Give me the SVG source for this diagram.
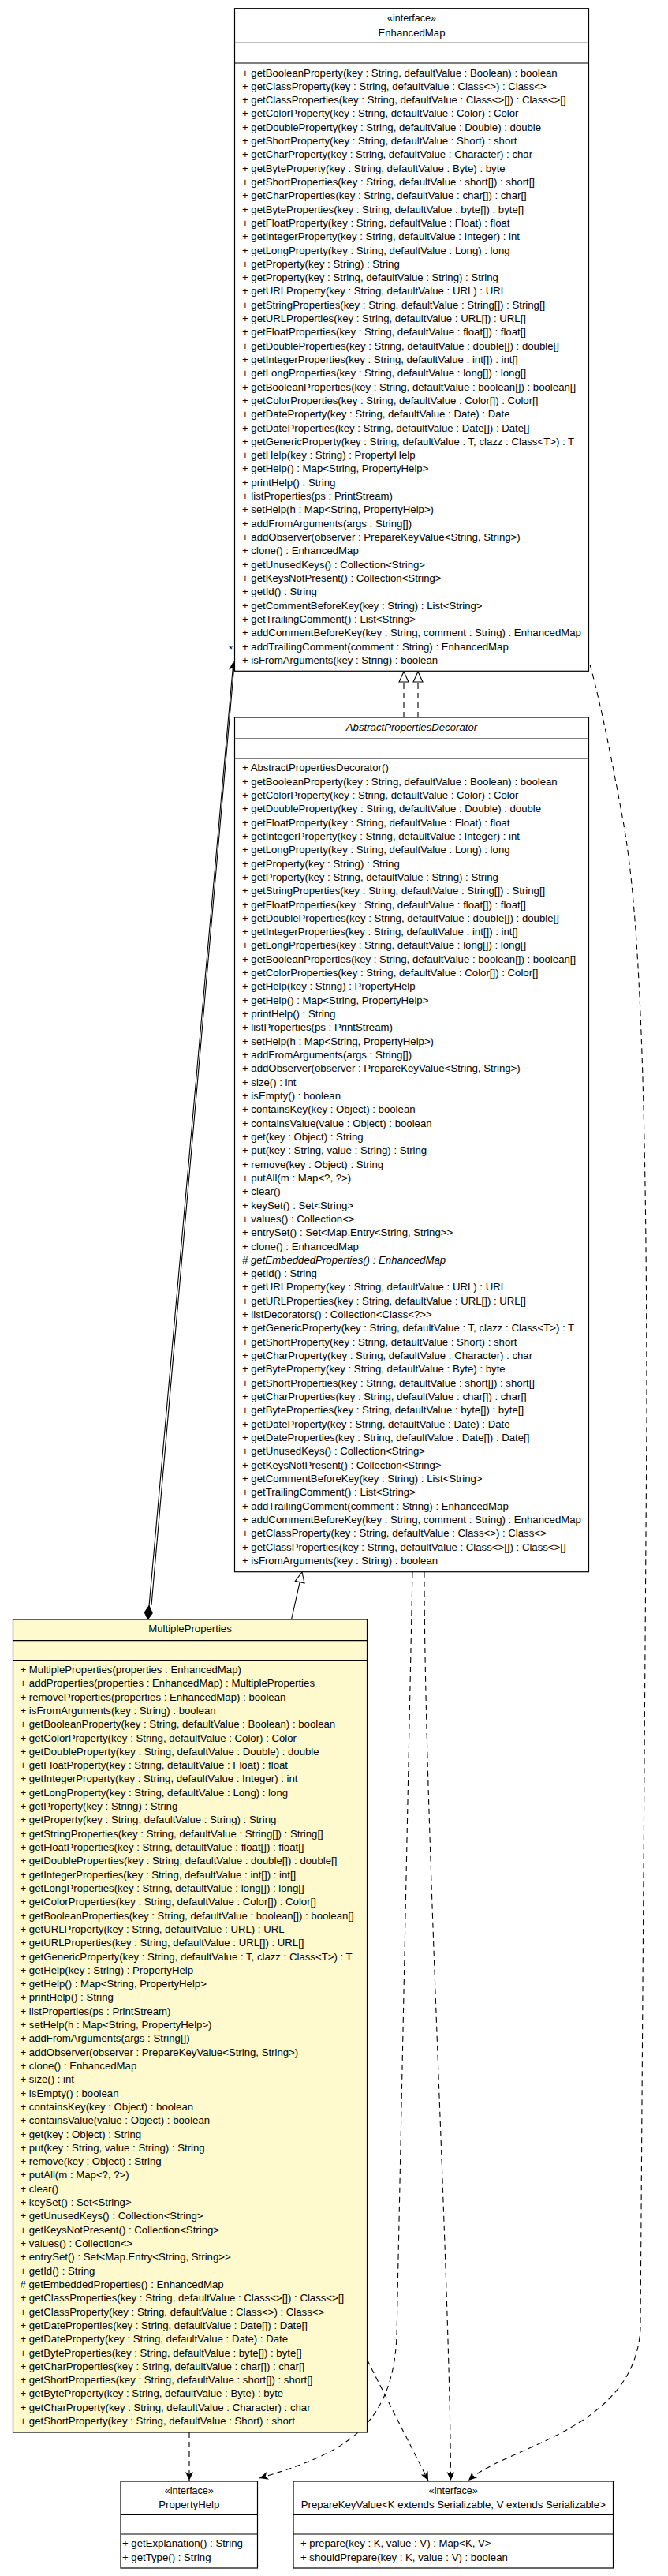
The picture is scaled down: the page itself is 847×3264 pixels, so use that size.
<svg xmlns="http://www.w3.org/2000/svg" width="847" height="3264" viewBox="0 0 847 3264">
<style>
.box{fill:#fff;stroke:#000;stroke-width:1.2}
.mp{fill:#FFFACD}
.sep{stroke:#000;stroke-width:1.2}
.t{font-family:"Liberation Sans",Arial,Helvetica,sans-serif;font-size:13.2px;fill:#000}
.st{font-size:12.5px}
.c{text-anchor:middle}
.i{font-style:italic}
.dep{fill:none;stroke:#000;stroke-width:1.1;stroke-dasharray:7,5}
.sol{fill:none;stroke:#000;stroke-width:1.1}
</style>
<defs>
<marker id="vee" markerUnits="userSpaceOnUse" markerWidth="12" markerHeight="10" refX="11" refY="5" orient="auto" viewBox="0 0 12 10"><path d="M0,0 L11,5 L0,10 L3,5 z" fill="#000"/></marker>
<marker id="tri" markerUnits="userSpaceOnUse" markerWidth="15" markerHeight="14" refX="14" refY="7" orient="auto" viewBox="0 0 15 14"><path d="M1,1 L14,7 L1,13 z" fill="#fff" stroke="#000" stroke-width="1.1"/></marker>
<marker id="dia" markerUnits="userSpaceOnUse" markerWidth="19" markerHeight="12" refX="0.5" refY="6" orient="auto" viewBox="0 0 19 12"><path d="M0.5,6 L9,1 L18,6 L9,11 z" fill="#000" stroke="#000"/></marker>
</defs>

<g id="connectors">
<path class="dep" d="M512,909 L512,851" marker-end="url(#tri)"/>
<path class="dep" d="M530,909 L530,851" marker-end="url(#tri)"/>
<path class="sol" d="M369.5,2052 L383,1992" marker-end="url(#tri)"/>
<path class="sol" d="M187.5,2052 L296,838" marker-start="url(#dia)" marker-end="url(#vee)"/>
<path class="sol" d="M192,2034 L297,842"/>
<path class="dep" d="M240,3082 L240,3143" marker-end="url(#vee)"/>
<path class="dep" d="M523,1992 L503,2960 C498,3080 430,3110 329,3140" marker-end="url(#vee)"/>
<path class="dep" d="M465.5,2990 L543,3143" marker-end="url(#vee)"/>
<path class="dep" d="M538,1992 C538,2300 571,2900 571.5,3143" marker-end="url(#vee)"/>
<path class="dep" d="M748,842 C756,870 770,930 790,1040 C812,1160 820,1400 820,1800 L812,2950 C806,3080 640,3100 594,3143" marker-end="url(#vee)"/>
<text class="t" x="290" y="827">*</text>
</g>

<g id="EnhancedMap">
<rect class="box" x="297.5" y="10.7" width="449" height="839.6"/>
<line class="sep" x1="297.5" y1="54.3" x2="746.5" y2="54.3"/>
<line class="sep" x1="297.5" y1="80" x2="746.5" y2="80"/>
<text class="t st c" x="522" y="27.2">«interface»</text>
<text class="t c" x="522" y="45.5">EnhancedMap</text>
<text class="t" x="307" y="96.5">
<tspan x="307" dy="0">+ getBooleanProperty(key : String, defaultValue : Boolean) : boolean</tspan>
<tspan x="307" dy="17.31">+ getClassProperty(key : String, defaultValue : Class&lt;&gt;) : Class&lt;&gt;</tspan>
<tspan x="307" dy="17.31">+ getClassProperties(key : String, defaultValue : Class&lt;&gt;[]) : Class&lt;&gt;[]</tspan>
<tspan x="307" dy="17.31">+ getColorProperty(key : String, defaultValue : Color) : Color</tspan>
<tspan x="307" dy="17.31">+ getDoubleProperty(key : String, defaultValue : Double) : double</tspan>
<tspan x="307" dy="17.31">+ getShortProperty(key : String, defaultValue : Short) : short</tspan>
<tspan x="307" dy="17.31">+ getCharProperty(key : String, defaultValue : Character) : char</tspan>
<tspan x="307" dy="17.31">+ getByteProperty(key : String, defaultValue : Byte) : byte</tspan>
<tspan x="307" dy="17.31">+ getShortProperties(key : String, defaultValue : short[]) : short[]</tspan>
<tspan x="307" dy="17.31">+ getCharProperties(key : String, defaultValue : char[]) : char[]</tspan>
<tspan x="307" dy="17.31">+ getByteProperties(key : String, defaultValue : byte[]) : byte[]</tspan>
<tspan x="307" dy="17.31">+ getFloatProperty(key : String, defaultValue : Float) : float</tspan>
<tspan x="307" dy="17.31">+ getIntegerProperty(key : String, defaultValue : Integer) : int</tspan>
<tspan x="307" dy="17.31">+ getLongProperty(key : String, defaultValue : Long) : long</tspan>
<tspan x="307" dy="17.31">+ getProperty(key : String) : String</tspan>
<tspan x="307" dy="17.31">+ getProperty(key : String, defaultValue : String) : String</tspan>
<tspan x="307" dy="17.31">+ getURLProperty(key : String, defaultValue : URL) : URL</tspan>
<tspan x="307" dy="17.31">+ getStringProperties(key : String, defaultValue : String[]) : String[]</tspan>
<tspan x="307" dy="17.31">+ getURLProperties(key : String, defaultValue : URL[]) : URL[]</tspan>
<tspan x="307" dy="17.31">+ getFloatProperties(key : String, defaultValue : float[]) : float[]</tspan>
<tspan x="307" dy="17.31">+ getDoubleProperties(key : String, defaultValue : double[]) : double[]</tspan>
<tspan x="307" dy="17.31">+ getIntegerProperties(key : String, defaultValue : int[]) : int[]</tspan>
<tspan x="307" dy="17.31">+ getLongProperties(key : String, defaultValue : long[]) : long[]</tspan>
<tspan x="307" dy="17.31">+ getBooleanProperties(key : String, defaultValue : boolean[]) : boolean[]</tspan>
<tspan x="307" dy="17.31">+ getColorProperties(key : String, defaultValue : Color[]) : Color[]</tspan>
<tspan x="307" dy="17.31">+ getDateProperty(key : String, defaultValue : Date) : Date</tspan>
<tspan x="307" dy="17.31">+ getDateProperties(key : String, defaultValue : Date[]) : Date[]</tspan>
<tspan x="307" dy="17.31">+ getGenericProperty(key : String, defaultValue : T, clazz : Class&lt;T&gt;) : T</tspan>
<tspan x="307" dy="17.31">+ getHelp(key : String) : PropertyHelp</tspan>
<tspan x="307" dy="17.31">+ getHelp() : Map&lt;String, PropertyHelp&gt;</tspan>
<tspan x="307" dy="17.31">+ printHelp() : String</tspan>
<tspan x="307" dy="17.31">+ listProperties(ps : PrintStream)</tspan>
<tspan x="307" dy="17.31">+ setHelp(h : Map&lt;String, PropertyHelp&gt;)</tspan>
<tspan x="307" dy="17.31">+ addFromArguments(args : String[])</tspan>
<tspan x="307" dy="17.31">+ addObserver(observer : PrepareKeyValue&lt;String, String&gt;)</tspan>
<tspan x="307" dy="17.31">+ clone() : EnhancedMap</tspan>
<tspan x="307" dy="17.31">+ getUnusedKeys() : Collection&lt;String&gt;</tspan>
<tspan x="307" dy="17.31">+ getKeysNotPresent() : Collection&lt;String&gt;</tspan>
<tspan x="307" dy="17.31">+ getId() : String</tspan>
<tspan x="307" dy="17.31">+ getCommentBeforeKey(key : String) : List&lt;String&gt;</tspan>
<tspan x="307" dy="17.31">+ getTrailingComment() : List&lt;String&gt;</tspan>
<tspan x="307" dy="17.31">+ addCommentBeforeKey(key : String, comment : String) : EnhancedMap</tspan>
<tspan x="307" dy="17.31">+ addTrailingComment(comment : String) : EnhancedMap</tspan>
<tspan x="307" dy="17.31">+ isFromArguments(key : String) : boolean</tspan>
</text>
</g>

<g id="AbstractPropertiesDecorator">
<rect class="box" x="297.5" y="909" width="449" height="1082.7"/>
<line class="sep" x1="297.5" y1="936" x2="746.5" y2="936"/>
<line class="sep" x1="297.5" y1="961" x2="746.5" y2="961"/>
<text class="t c i" x="522" y="925.5">AbstractPropertiesDecorator</text>
<text class="t" x="307" y="977.3">
<tspan x="307" dy="0">+ AbstractPropertiesDecorator()</tspan>
<tspan x="307" dy="17.32">+ getBooleanProperty(key : String, defaultValue : Boolean) : boolean</tspan>
<tspan x="307" dy="17.32">+ getColorProperty(key : String, defaultValue : Color) : Color</tspan>
<tspan x="307" dy="17.32">+ getDoubleProperty(key : String, defaultValue : Double) : double</tspan>
<tspan x="307" dy="17.32">+ getFloatProperty(key : String, defaultValue : Float) : float</tspan>
<tspan x="307" dy="17.32">+ getIntegerProperty(key : String, defaultValue : Integer) : int</tspan>
<tspan x="307" dy="17.32">+ getLongProperty(key : String, defaultValue : Long) : long</tspan>
<tspan x="307" dy="17.32">+ getProperty(key : String) : String</tspan>
<tspan x="307" dy="17.32">+ getProperty(key : String, defaultValue : String) : String</tspan>
<tspan x="307" dy="17.32">+ getStringProperties(key : String, defaultValue : String[]) : String[]</tspan>
<tspan x="307" dy="17.32">+ getFloatProperties(key : String, defaultValue : float[]) : float[]</tspan>
<tspan x="307" dy="17.32">+ getDoubleProperties(key : String, defaultValue : double[]) : double[]</tspan>
<tspan x="307" dy="17.32">+ getIntegerProperties(key : String, defaultValue : int[]) : int[]</tspan>
<tspan x="307" dy="17.32">+ getLongProperties(key : String, defaultValue : long[]) : long[]</tspan>
<tspan x="307" dy="17.32">+ getBooleanProperties(key : String, defaultValue : boolean[]) : boolean[]</tspan>
<tspan x="307" dy="17.32">+ getColorProperties(key : String, defaultValue : Color[]) : Color[]</tspan>
<tspan x="307" dy="17.32">+ getHelp(key : String) : PropertyHelp</tspan>
<tspan x="307" dy="17.32">+ getHelp() : Map&lt;String, PropertyHelp&gt;</tspan>
<tspan x="307" dy="17.32">+ printHelp() : String</tspan>
<tspan x="307" dy="17.32">+ listProperties(ps : PrintStream)</tspan>
<tspan x="307" dy="17.32">+ setHelp(h : Map&lt;String, PropertyHelp&gt;)</tspan>
<tspan x="307" dy="17.32">+ addFromArguments(args : String[])</tspan>
<tspan x="307" dy="17.32">+ addObserver(observer : PrepareKeyValue&lt;String, String&gt;)</tspan>
<tspan x="307" dy="17.32">+ size() : int</tspan>
<tspan x="307" dy="17.32">+ isEmpty() : boolean</tspan>
<tspan x="307" dy="17.32">+ containsKey(key : Object) : boolean</tspan>
<tspan x="307" dy="17.32">+ containsValue(value : Object) : boolean</tspan>
<tspan x="307" dy="17.32">+ get(key : Object) : String</tspan>
<tspan x="307" dy="17.32">+ put(key : String, value : String) : String</tspan>
<tspan x="307" dy="17.32">+ remove(key : Object) : String</tspan>
<tspan x="307" dy="17.32">+ putAll(m : Map&lt;?, ?&gt;)</tspan>
<tspan x="307" dy="17.32">+ clear()</tspan>
<tspan x="307" dy="17.32">+ keySet() : Set&lt;String&gt;</tspan>
<tspan x="307" dy="17.32">+ values() : Collection&lt;&gt;</tspan>
<tspan x="307" dy="17.32">+ entrySet() : Set&lt;Map.Entry&lt;String, String&gt;&gt;</tspan>
<tspan x="307" dy="17.32">+ clone() : EnhancedMap</tspan>
<tspan x="307" dy="17.32" class="i"># getEmbeddedProperties() : EnhancedMap</tspan>
<tspan x="307" dy="17.32">+ getId() : String</tspan>
<tspan x="307" dy="17.32">+ getURLProperty(key : String, defaultValue : URL) : URL</tspan>
<tspan x="307" dy="17.32">+ getURLProperties(key : String, defaultValue : URL[]) : URL[]</tspan>
<tspan x="307" dy="17.32">+ listDecorators() : Collection&lt;Class&lt;?&gt;&gt;</tspan>
<tspan x="307" dy="17.32">+ getGenericProperty(key : String, defaultValue : T, clazz : Class&lt;T&gt;) : T</tspan>
<tspan x="307" dy="17.32">+ getShortProperty(key : String, defaultValue : Short) : short</tspan>
<tspan x="307" dy="17.32">+ getCharProperty(key : String, defaultValue : Character) : char</tspan>
<tspan x="307" dy="17.32">+ getByteProperty(key : String, defaultValue : Byte) : byte</tspan>
<tspan x="307" dy="17.32">+ getShortProperties(key : String, defaultValue : short[]) : short[]</tspan>
<tspan x="307" dy="17.32">+ getCharProperties(key : String, defaultValue : char[]) : char[]</tspan>
<tspan x="307" dy="17.32">+ getByteProperties(key : String, defaultValue : byte[]) : byte[]</tspan>
<tspan x="307" dy="17.32">+ getDateProperty(key : String, defaultValue : Date) : Date</tspan>
<tspan x="307" dy="17.32">+ getDateProperties(key : String, defaultValue : Date[]) : Date[]</tspan>
<tspan x="307" dy="17.32">+ getUnusedKeys() : Collection&lt;String&gt;</tspan>
<tspan x="307" dy="17.32">+ getKeysNotPresent() : Collection&lt;String&gt;</tspan>
<tspan x="307" dy="17.32">+ getCommentBeforeKey(key : String) : List&lt;String&gt;</tspan>
<tspan x="307" dy="17.32">+ getTrailingComment() : List&lt;String&gt;</tspan>
<tspan x="307" dy="17.32">+ addTrailingComment(comment : String) : EnhancedMap</tspan>
<tspan x="307" dy="17.32">+ addCommentBeforeKey(key : String, comment : String) : EnhancedMap</tspan>
<tspan x="307" dy="17.32">+ getClassProperty(key : String, defaultValue : Class&lt;&gt;) : Class&lt;&gt;</tspan>
<tspan x="307" dy="17.32">+ getClassProperties(key : String, defaultValue : Class&lt;&gt;[]) : Class&lt;&gt;[]</tspan>
<tspan x="307" dy="17.32">+ isFromArguments(key : String) : boolean</tspan>
</text>
</g>

<g id="MultipleProperties">
<rect class="box mp" x="16.5" y="2052" width="449" height="1030"/>
<line class="sep" x1="16.5" y1="2078.7" x2="465.5" y2="2078.7"/>
<line class="sep" x1="16.5" y1="2103.7" x2="465.5" y2="2103.7"/>
<text class="t c" x="241" y="2068.3">MultipleProperties</text>
<text class="t" x="25.5" y="2120">
<tspan x="25.5" dy="0">+ MultipleProperties(properties : EnhancedMap)</tspan>
<tspan x="25.5" dy="17.31">+ addProperties(properties : EnhancedMap) : MultipleProperties</tspan>
<tspan x="25.5" dy="17.31">+ removeProperties(properties : EnhancedMap) : boolean</tspan>
<tspan x="25.5" dy="17.31">+ isFromArguments(key : String) : boolean</tspan>
<tspan x="25.5" dy="17.31">+ getBooleanProperty(key : String, defaultValue : Boolean) : boolean</tspan>
<tspan x="25.5" dy="17.31">+ getColorProperty(key : String, defaultValue : Color) : Color</tspan>
<tspan x="25.5" dy="17.31">+ getDoubleProperty(key : String, defaultValue : Double) : double</tspan>
<tspan x="25.5" dy="17.31">+ getFloatProperty(key : String, defaultValue : Float) : float</tspan>
<tspan x="25.5" dy="17.31">+ getIntegerProperty(key : String, defaultValue : Integer) : int</tspan>
<tspan x="25.5" dy="17.31">+ getLongProperty(key : String, defaultValue : Long) : long</tspan>
<tspan x="25.5" dy="17.31">+ getProperty(key : String) : String</tspan>
<tspan x="25.5" dy="17.31">+ getProperty(key : String, defaultValue : String) : String</tspan>
<tspan x="25.5" dy="17.31">+ getStringProperties(key : String, defaultValue : String[]) : String[]</tspan>
<tspan x="25.5" dy="17.31">+ getFloatProperties(key : String, defaultValue : float[]) : float[]</tspan>
<tspan x="25.5" dy="17.31">+ getDoubleProperties(key : String, defaultValue : double[]) : double[]</tspan>
<tspan x="25.5" dy="17.31">+ getIntegerProperties(key : String, defaultValue : int[]) : int[]</tspan>
<tspan x="25.5" dy="17.31">+ getLongProperties(key : String, defaultValue : long[]) : long[]</tspan>
<tspan x="25.5" dy="17.31">+ getColorProperties(key : String, defaultValue : Color[]) : Color[]</tspan>
<tspan x="25.5" dy="17.31">+ getBooleanProperties(key : String, defaultValue : boolean[]) : boolean[]</tspan>
<tspan x="25.5" dy="17.31">+ getURLProperty(key : String, defaultValue : URL) : URL</tspan>
<tspan x="25.5" dy="17.31">+ getURLProperties(key : String, defaultValue : URL[]) : URL[]</tspan>
<tspan x="25.5" dy="17.31">+ getGenericProperty(key : String, defaultValue : T, clazz : Class&lt;T&gt;) : T</tspan>
<tspan x="25.5" dy="17.31">+ getHelp(key : String) : PropertyHelp</tspan>
<tspan x="25.5" dy="17.31">+ getHelp() : Map&lt;String, PropertyHelp&gt;</tspan>
<tspan x="25.5" dy="17.31">+ printHelp() : String</tspan>
<tspan x="25.5" dy="17.31">+ listProperties(ps : PrintStream)</tspan>
<tspan x="25.5" dy="17.31">+ setHelp(h : Map&lt;String, PropertyHelp&gt;)</tspan>
<tspan x="25.5" dy="17.31">+ addFromArguments(args : String[])</tspan>
<tspan x="25.5" dy="17.31">+ addObserver(observer : PrepareKeyValue&lt;String, String&gt;)</tspan>
<tspan x="25.5" dy="17.31">+ clone() : EnhancedMap</tspan>
<tspan x="25.5" dy="17.31">+ size() : int</tspan>
<tspan x="25.5" dy="17.31">+ isEmpty() : boolean</tspan>
<tspan x="25.5" dy="17.31">+ containsKey(key : Object) : boolean</tspan>
<tspan x="25.5" dy="17.31">+ containsValue(value : Object) : boolean</tspan>
<tspan x="25.5" dy="17.31">+ get(key : Object) : String</tspan>
<tspan x="25.5" dy="17.31">+ put(key : String, value : String) : String</tspan>
<tspan x="25.5" dy="17.31">+ remove(key : Object) : String</tspan>
<tspan x="25.5" dy="17.31">+ putAll(m : Map&lt;?, ?&gt;)</tspan>
<tspan x="25.5" dy="17.31">+ clear()</tspan>
<tspan x="25.5" dy="17.31">+ keySet() : Set&lt;String&gt;</tspan>
<tspan x="25.5" dy="17.31">+ getUnusedKeys() : Collection&lt;String&gt;</tspan>
<tspan x="25.5" dy="17.31">+ getKeysNotPresent() : Collection&lt;String&gt;</tspan>
<tspan x="25.5" dy="17.31">+ values() : Collection&lt;&gt;</tspan>
<tspan x="25.5" dy="17.31">+ entrySet() : Set&lt;Map.Entry&lt;String, String&gt;&gt;</tspan>
<tspan x="25.5" dy="17.31">+ getId() : String</tspan>
<tspan x="25.5" dy="17.31"># getEmbeddedProperties() : EnhancedMap</tspan>
<tspan x="25.5" dy="17.31">+ getClassProperties(key : String, defaultValue : Class&lt;&gt;[]) : Class&lt;&gt;[]</tspan>
<tspan x="25.5" dy="17.31">+ getClassProperty(key : String, defaultValue : Class&lt;&gt;) : Class&lt;&gt;</tspan>
<tspan x="25.5" dy="17.31">+ getDateProperties(key : String, defaultValue : Date[]) : Date[]</tspan>
<tspan x="25.5" dy="17.31">+ getDateProperty(key : String, defaultValue : Date) : Date</tspan>
<tspan x="25.5" dy="17.31">+ getByteProperties(key : String, defaultValue : byte[]) : byte[]</tspan>
<tspan x="25.5" dy="17.31">+ getCharProperties(key : String, defaultValue : char[]) : char[]</tspan>
<tspan x="25.5" dy="17.31">+ getShortProperties(key : String, defaultValue : short[]) : short[]</tspan>
<tspan x="25.5" dy="17.31">+ getByteProperty(key : String, defaultValue : Byte) : byte</tspan>
<tspan x="25.5" dy="17.31">+ getCharProperty(key : String, defaultValue : Character) : char</tspan>
<tspan x="25.5" dy="17.31">+ getShortProperty(key : String, defaultValue : Short) : short</tspan>
</text>
</g>

<g id="PropertyHelp">
<rect class="box" x="153" y="3144" width="173.5" height="110"/>
<line class="sep" x1="153" y1="3186.3" x2="326.5" y2="3186.3"/>
<line class="sep" x1="153" y1="3211" x2="326.5" y2="3211"/>
<text class="t st c" x="239.8" y="3159.5">«interface»</text>
<text class="t c" x="239.8" y="3178">PropertyHelp</text>
<text class="t" x="155" y="3227.3">+ getExplanation() : String</text>
<text class="t" x="155" y="3244.6">+ getType() : String</text>
</g>

<g id="PrepareKeyValue">
<rect class="box" x="372" y="3144" width="405.5" height="110"/>
<line class="sep" x1="372" y1="3186.3" x2="777.5" y2="3186.3"/>
<line class="sep" x1="372" y1="3211" x2="777.5" y2="3211"/>
<text class="t st c" x="574.8" y="3159.5">«interface»</text>
<text class="t c" x="574.8" y="3178">PrepareKeyValue&lt;K extends Serializable, V extends Serializable&gt;</text>
<text class="t" x="381" y="3227.3">+ prepare(key : K, value : V) : Map&lt;K, V&gt;</text>
<text class="t" x="381" y="3244.6">+ shouldPrepare(key : K, value : V) : boolean</text>
</g>
</svg>
